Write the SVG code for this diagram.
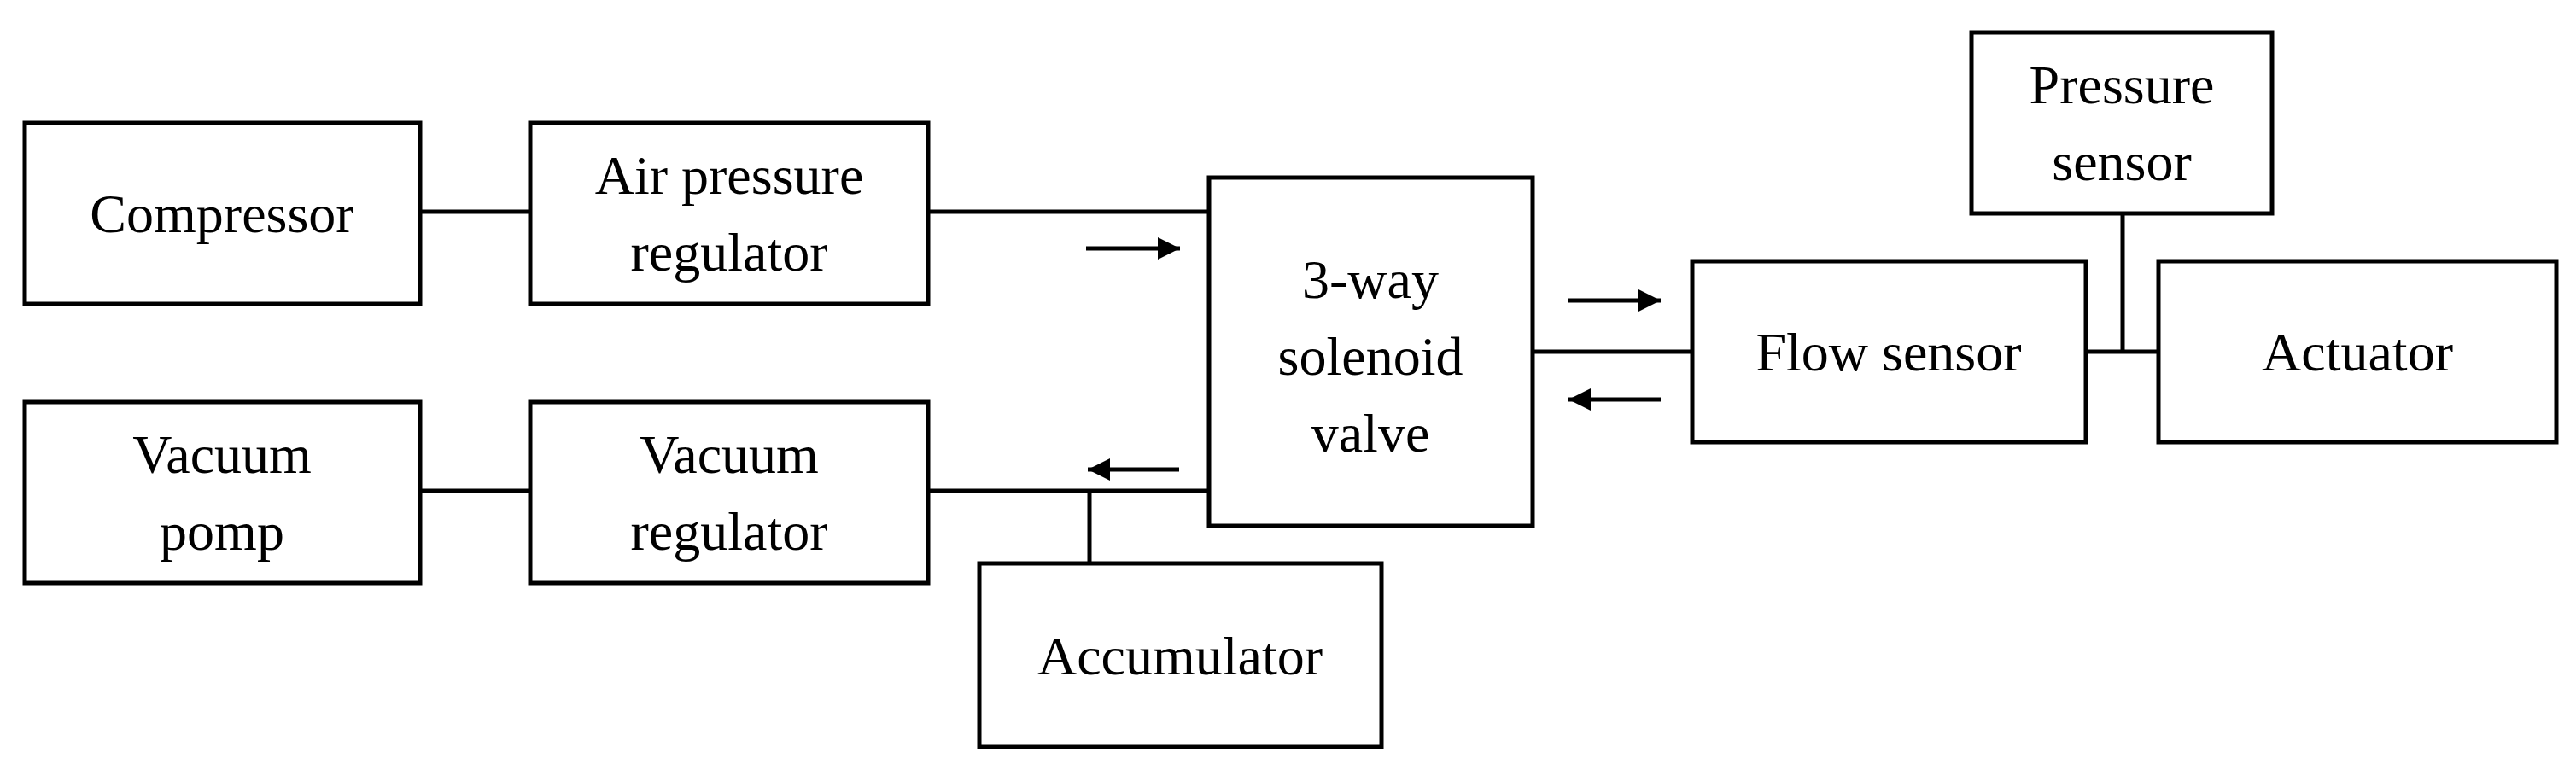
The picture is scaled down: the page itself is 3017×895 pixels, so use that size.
<svg xmlns="http://www.w3.org/2000/svg" width="3017" height="895" viewBox="0 0 3017 895">
<style>
rect{fill:#fff;stroke:#000;stroke-width:5}
line{stroke:#000;stroke-width:5}
text{font-family:"Liberation Serif","Times New Roman",serif;font-size:64px;text-anchor:middle;fill:#000}
</style>
<defs><marker id="ah" markerWidth="8" markerHeight="8" refX="7" refY="4" orient="auto" markerUnits="userSpaceOnUse" viewBox="0 0 8 8"><path d="M0,0L8,4L0,8z" fill="#000"/></marker>
<marker id="a" viewBox="0 0 10 10" refX="10" refY="5" markerWidth="26" markerHeight="26" markerUnits="userSpaceOnUse" orient="auto"><path d="M0,0L10,5L0,10z" fill="#000"/></marker></defs>
<rect width="3017" height="895" style="fill:#fff;stroke:none"/>
<g id="connectors">
<line x1="492" y1="248" x2="621" y2="248"/>
<line x1="1087" y1="248" x2="1416" y2="248"/>
<line x1="492" y1="575" x2="621" y2="575"/>
<line x1="1087" y1="575" x2="1416" y2="575"/>
<line x1="1276" y1="575" x2="1276" y2="660"/>
<line x1="1795" y1="412" x2="1982" y2="412"/>
<line x1="2443" y1="412" x2="2528" y2="412"/>
<line x1="2486" y1="250" x2="2486" y2="412"/>
<line x1="1272" y1="291" x2="1382" y2="291" marker-end="url(#a)"/>
<line x1="1381" y1="550" x2="1274" y2="550" marker-end="url(#a)"/>
<line x1="1837" y1="352" x2="1945" y2="352" marker-end="url(#a)"/>
<line x1="1945" y1="468" x2="1837" y2="468" marker-end="url(#a)"/>
</g>
<g id="compressor"><rect x="29" y="144" width="463" height="212"/><text x="260" y="272">Compressor</text></g>
<g id="air-reg"><rect x="621" y="144" width="466" height="212"/><text x="854" y="227">Air pressure</text><text x="854" y="317">regulator</text></g>
<g id="vac-pump"><rect x="29" y="471" width="463" height="212"/><text x="260" y="554">Vacuum</text><text x="260" y="644">pomp</text></g>
<g id="vac-reg"><rect x="621" y="471" width="466" height="212"/><text x="854" y="554">Vacuum</text><text x="854" y="644">regulator</text></g>
<g id="valve"><rect x="1416" y="208" width="379" height="408"/><text x="1605" y="349">3-way</text><text x="1605" y="439">solenoid</text><text x="1605" y="529">valve</text></g>
<g id="accumulator"><rect x="1147" y="660" width="471" height="215"/><text x="1382" y="790">Accumulator</text></g>
<g id="flow"><rect x="1982" y="306" width="461" height="212"/><text x="2212" y="434">Flow sensor</text></g>
<g id="actuator"><rect x="2528" y="306" width="466" height="212"/><text x="2761" y="434">Actuator</text></g>
<g id="pressure"><rect x="2309" y="38" width="352" height="212"/><text x="2485" y="121">Pressure</text><text x="2485" y="211">sensor</text></g>
</svg>
